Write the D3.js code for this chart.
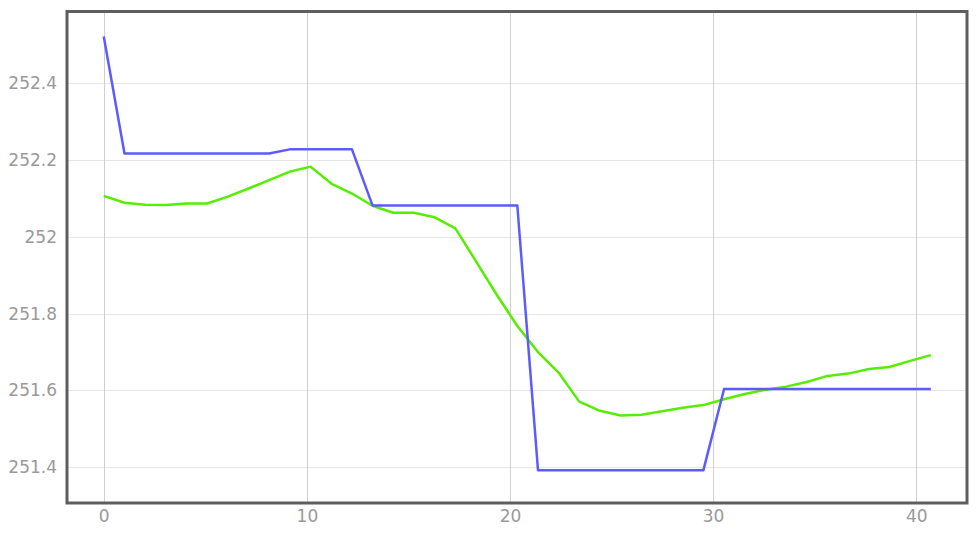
<!DOCTYPE html>
<html>
<head>
<meta charset="utf-8">
<script src="https://cdn.jsdelivr.net/npm/d3@7"></script>
<style>
    body { margin: 0; background: #fff; }
    .tick text { font-family: "DejaVu Sans", Verdana, sans-serif; font-size: 17px; fill: #999; }
</style>
</head>
<body>
<script>
// 采样时间
const sampleTimes = [0, 1.02, 2.04, 3.05, 4.07, 5.09, 6.11, 7.13, 8.14, 9.16,
    10.18, 11.2, 12.22, 13.23, 14.25, 15.27, 16.29, 17.31, 18.32, 19.34,
    20.36, 21.38, 22.4, 23.41, 24.43, 25.45, 26.47, 27.49, 28.5, 29.52,
    30.54, 31.56, 32.58, 33.59, 34.61, 35.63, 36.65, 37.67, 38.68, 39.7, 40.72];

// 蓝色阶梯线
const stepValues = [252.522,
    252.217, 252.217, 252.217, 252.217, 252.217, 252.217, 252.217, 252.217,
    252.228, 252.228, 252.228, 252.228,
    252.082, 252.082, 252.082, 252.082, 252.082, 252.082, 252.082, 252.082,
    251.392, 251.392, 251.392, 251.392, 251.392, 251.392, 251.392, 251.392, 251.392,
    251.604, 251.604, 251.604, 251.604, 251.604, 251.604, 251.604, 251.604, 251.604, 251.604, 251.604];

// 绿色平滑线
const smoothValues = [252.107, 252.089, 252.084, 252.083, 252.087, 252.087, 252.105, 252.126, 252.148, 252.170,
    252.183, 252.139, 252.113, 252.081, 252.063, 252.063, 252.051, 252.022, 251.937, 251.850,
    251.768, 251.700, 251.646, 251.571, 251.547, 251.535, 251.537, 251.546, 251.555, 251.562,
    251.577, 251.591, 251.602, 251.610, 251.622, 251.638, 251.644, 251.656, 251.661, 251.677, 251.692];

const xTicks = [0, 10, 20, 30, 40];
const yTicks = [251.4, 251.6, 251.8, 252, 252.2, 252.4];

const width = 980, height = 536;
const margin = { top: 11.5, right: 13, bottom: 33, left: 67 };

const x = d3.scaleLinear().domain([-1.81, 42.5]).range([margin.left, width - margin.right]);
const y = d3.scaleLinear().domain([251.307, 252.587]).range([height - margin.bottom, margin.top]);

const svg = d3.select('body').append('svg')
    .attr('width', width)
    .attr('height', height);

const chart = svg.append('g').attr('class', 'chart');

// 网格线
chart.append('g').selectAll('line').data(yTicks).join('line')
    .attr('x1', margin.left).attr('x2', width - margin.right)
    .attr('y1', d => Math.round(y(d)) + 0.5).attr('y2', d => Math.round(y(d)) + 0.5)
    .attr('stroke', '#e6e6e6');
chart.append('g').selectAll('line').data(xTicks).join('line')
    .attr('y1', margin.top).attr('y2', height - margin.bottom)
    .attr('x1', d => Math.round(x(d)) + 0.5).attr('x2', d => Math.round(x(d)) + 0.5)
    .attr('stroke', '#cfcfcf');

// 坐标轴文字
chart.append('g')
    .attr('transform', `translate(0, ${height - margin.bottom})`)
    .call(d3.axisBottom(x).tickValues(xTicks).tickSize(0).tickPadding(7).tickFormat(d3.format('d')))
    .call(g => g.select('.domain').remove());
chart.append('g')
    .attr('transform', `translate(${margin.left}, 0)`)
    .call(d3.axisLeft(y).tickValues(yTicks).tickSize(0).tickPadding(10).tickFormat(d => String(+d.toFixed(1))))
    .call(g => g.select('.domain').remove());

svg.append('clipPath').attr('id', 'plot-clip').append('rect')
    .attr('x', margin.left).attr('y', margin.top)
    .attr('width', width - margin.left - margin.right)
    .attr('height', height - margin.top - margin.bottom);

const line = values => d3.line()
    .x((d, i) => x(sampleTimes[i]))
    .y(d => y(d))(values);

const lines = chart.append('g').attr('clip-path', 'url(#plot-clip)');
lines.append('path')
    .attr('d', line(smoothValues))
    .attr('fill', 'none')
    .attr('stroke', '#55ee00')
    .attr('stroke-width', 2.5)
    .attr('stroke-linejoin', 'round');
lines.append('path')
    .attr('d', line(stepValues))
    .attr('fill', 'none')
    .attr('stroke', '#5b5bff')
    .attr('stroke-width', 2.5)
    .attr('stroke-linejoin', 'round');

// 外框
chart.append('rect')
    .attr('x', margin.left).attr('y', margin.top)
    .attr('width', width - margin.left - margin.right)
    .attr('height', height - margin.top - margin.bottom)
    .attr('fill', 'none')
    .attr('stroke', '#5e5e5e')
    .attr('stroke-width', 3);
</script>
</body>
</html>
